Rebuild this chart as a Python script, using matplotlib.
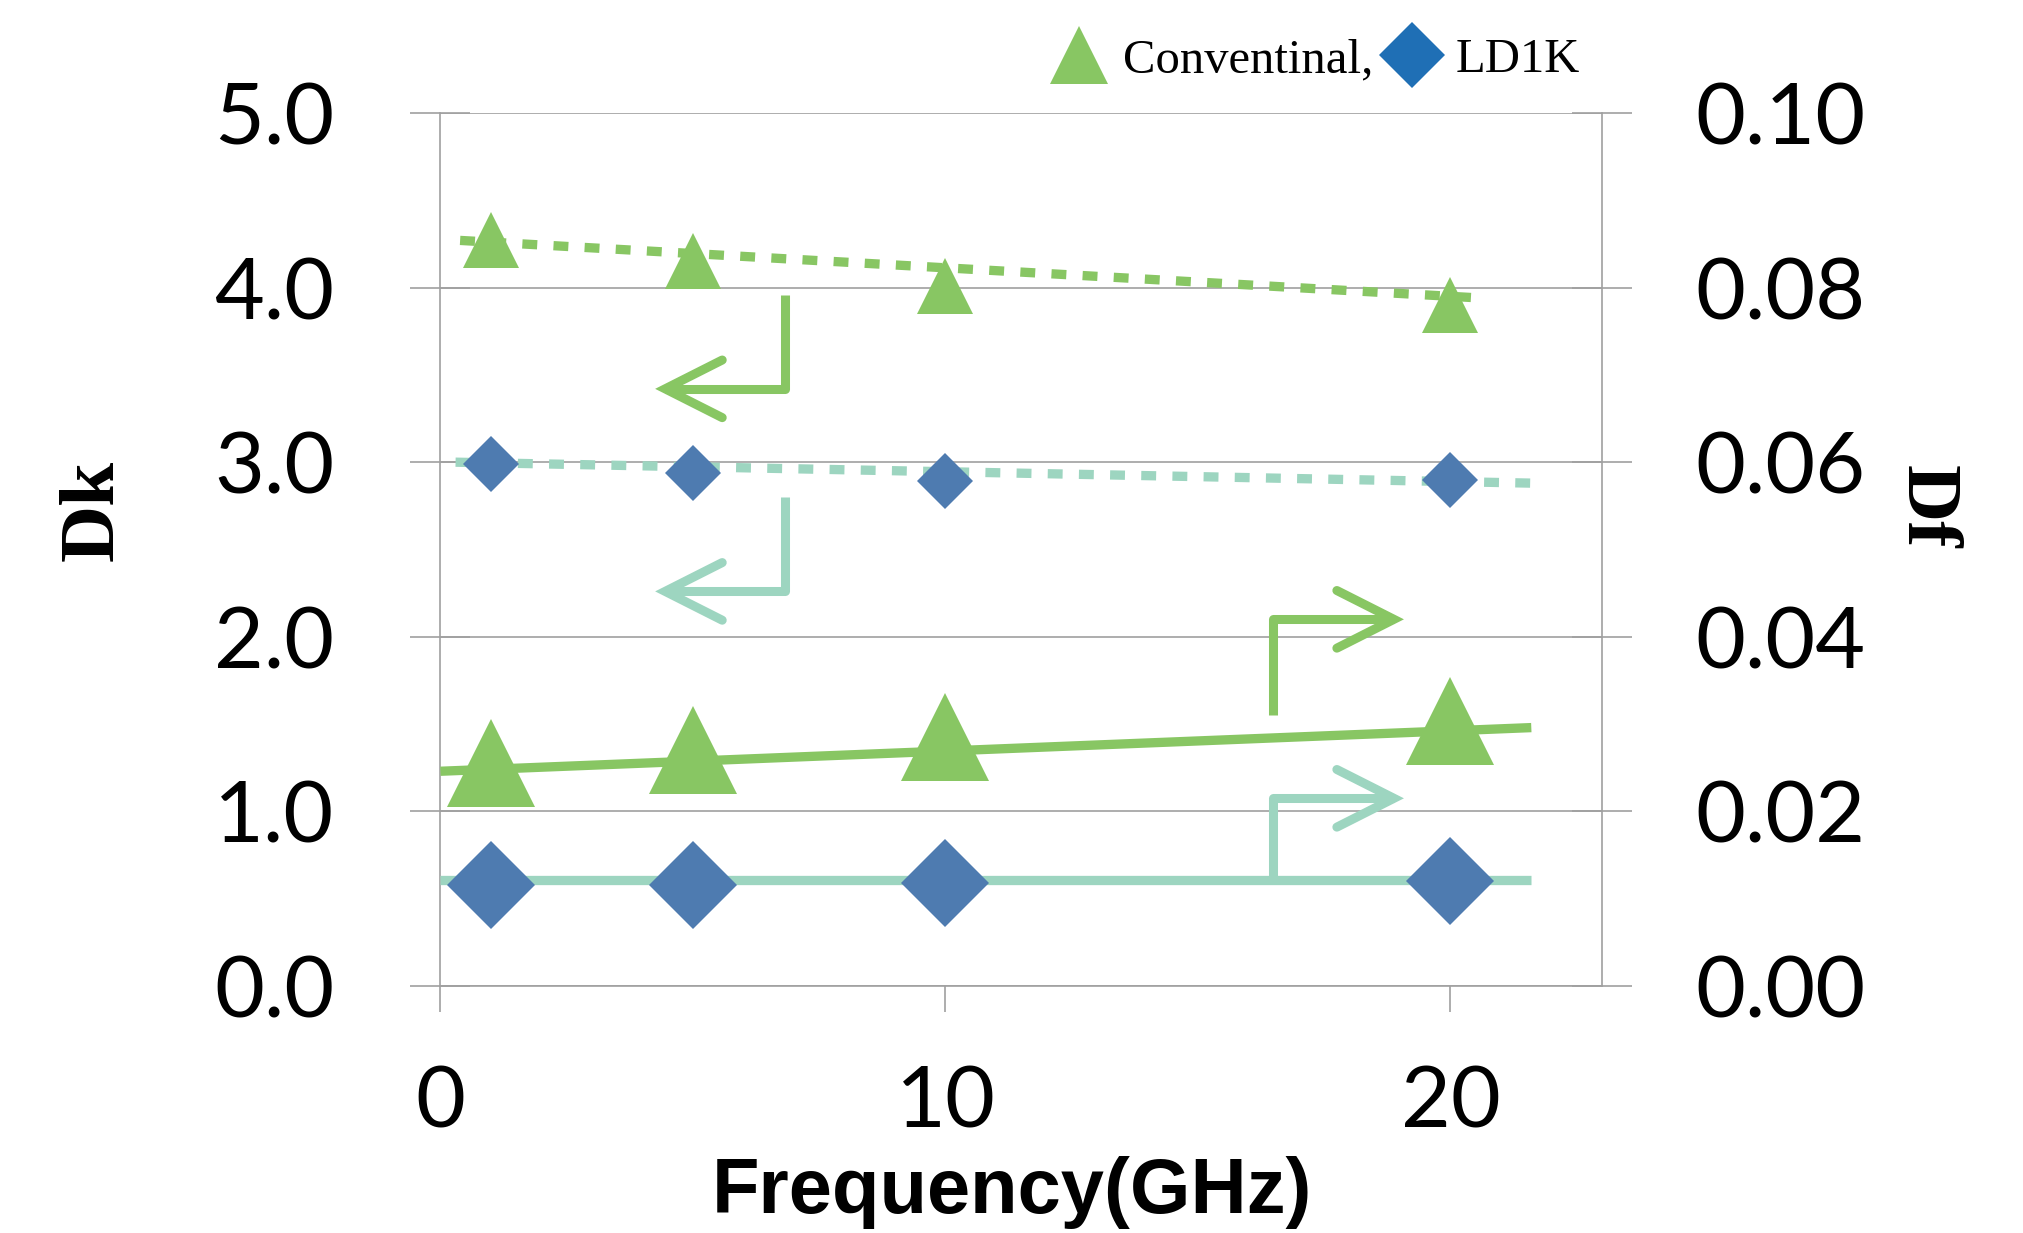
import numpy as np
import matplotlib
matplotlib.use("Agg")
import matplotlib.pyplot as plt
from matplotlib.lines import Line2D

# Measured data (frequency in GHz)
freq = [1, 5, 10, 20]
dk_conv = [4.27, 4.15, 4.01, 3.90]
dk_ld1k = [2.99, 2.94, 2.89, 2.90]
df_conv = [0.0255, 0.0270, 0.0285, 0.0304]
df_ld1k = [0.0116, 0.0116, 0.0118, 0.0120]

# Trend lines (start / end)
trend_x_dk_conv = [0.39, 20.6]
trend_dk_conv = [4.27, 3.94]
trend_x_dk_ld1k = [0.30, 21.6]
trend_dk_ld1k = [3.00, 2.88]
trend_x_df = [0.0, 21.6]
trend_df_conv = [0.0246, 0.0296]
trend_df_ld1k = [0.0121, 0.0121]

# Axis ticks
x_ticks = [0, 10, 20]
dk_ticks = [0, 1, 2, 3, 4, 5]
df_ticks = [0.00, 0.02, 0.04, 0.06, 0.08, 0.10]

# Colours
green = "#88C663"
teal = "#9DD5C0"
blue = "#4E7BB0"
legend_blue = "#1F6FB5"
grid_color = "#A0A0A0"

tick_font = "Lato"
serif_font = "Liberation Serif"

fig = plt.figure(figsize=(20.23, 12.33), dpi=100)
ax = fig.add_axes([0.2177, 0.2003, 0.5742, 0.7081])
ax2 = ax.twinx()

ax.set_xlim(0, 23)
ax.set_ylim(0, 5)
ax2.set_ylim(0, 0.10)

# Dk (left axis): dotted trend lines + small markers
ax.plot(trend_x_dk_conv, trend_dk_conv, color=green, lw=6.7, dashes=(1.6, 1.75),
        dash_capstyle="butt", zorder=2)
ax.plot(trend_x_dk_ld1k, trend_dk_ld1k, color=teal, lw=6.7, dashes=(1.6, 1.75),
        dash_capstyle="butt", zorder=2)
ax.plot(freq, dk_conv, linestyle="none", marker="^", markersize=40, mew=0,
        color=green, zorder=3)
ax.plot(freq, dk_ld1k, linestyle="none", marker="D", markersize=28.5, mew=0,
        color=blue, zorder=3)

# Df (right axis): solid trend lines + big markers
ax2.plot(trend_x_df, trend_df_conv, color=green, lw=6.7, solid_capstyle="butt", zorder=2)
ax2.plot(trend_x_df, trend_df_ld1k, color=teal, lw=6.7, solid_capstyle="butt", zorder=2)
ax2.plot(freq, df_conv, linestyle="none", marker="^", markersize=63, mew=0,
         color=green, zorder=3)
ax2.plot(freq, df_ld1k, linestyle="none", marker="D", markersize=44.8, mew=0,
         color=blue, zorder=3)

# L-shaped arrows telling which axis each series belongs to
# (shaft x, shaft start y, corner y, tip x, colour) in Dk units
arrows = [
    (6.83, 3.96, 3.42, 4.45, green),
    (6.83, 2.80, 2.26, 4.45, teal),
    (16.49, 1.55, 2.10, 18.88, green),
    (16.49, 0.61, 1.075, 18.88, teal),
]
for sx, sy, cy, tx, col in arrows:
    ax.plot([sx, sx, tx], [sy, cy, cy], color=col, lw=6.5,
            solid_capstyle="butt", solid_joinstyle="round", zorder=2.5)
    arm_x = tx + (1.13 if tx < sx else -1.13)
    ax.plot([arm_x, tx, arm_x], [cy + 0.165, cy, cy - 0.165], color=col, lw=6.5,
            solid_capstyle="round", solid_joinstyle="miter", zorder=2.5)

# Grid and axes styling (Excel look)
ax.set_yticks(dk_ticks)
ax.set_yticklabels([f"{v:.1f}" for v in dk_ticks])
ax2.set_yticks(df_ticks)
ax2.set_yticklabels([f"{v:.2f}" for v in df_ticks])
ax.set_xticks(x_ticks)
ax.set_xticklabels([str(v) for v in x_ticks])

ax.yaxis.grid(True, color=grid_color, lw=1.2)
ax.set_axisbelow(True)

ax.tick_params(axis="y", direction="inout", length=43, width=1.2, color=grid_color,
               pad=55, labelsize=62, labelcolor="black")
ax2.tick_params(axis="y", direction="inout", length=43, width=1.2, color=grid_color,
                pad=46, labelsize=62, labelcolor="black")
ax.tick_params(axis="x", direction="out", length=18.7, width=1.2, color=grid_color,
               pad=38, labelsize=62, labelcolor="black")
for lab in ax.get_xticklabels() + ax.get_yticklabels() + ax2.get_yticklabels():
    lab.set_fontfamily(tick_font)

ax.spines["top"].set_visible(False)
for s in ["left", "right", "bottom"]:
    ax.spines[s].set_color(grid_color)
    ax.spines[s].set_linewidth(1.2)
for s in ax2.spines:
    ax2.spines[s].set_visible(False)

# Axis titles
ax.text(-0.298, 0.545, "Dk", transform=ax.transAxes, rotation=90, ha="center",
        va="center", fontsize=57, fontweight="bold", fontfamily=serif_font)
ax.text(1.278, 0.549, "Df", transform=ax.transAxes, rotation=-90, ha="center",
        va="center", fontsize=57, fontweight="bold", fontfamily=serif_font)
ax.text(0.492, -0.2597, "Frequency(GHz)", transform=ax.transAxes, ha="center",
        va="baseline", fontsize=56, fontweight="bold", fontfamily="Liberation Sans")

# Legend
handles = [
    Line2D([], [], linestyle="none", marker="^", markersize=42, mew=0, color=green),
    Line2D([], [], linestyle="none", marker="D", markersize=33.6, mew=0, color=legend_blue),
]
ax2.legend(handles, ["Conventinal,", "LD1K"], ncol=2, loc="center",
           bbox_to_anchor=(0.650, 0.951), bbox_transform=fig.transFigure,
           frameon=False, prop={"family": serif_font, "size": 35},
           handlelength=1.2, handletextpad=0.3, columnspacing=0.2,
           borderpad=0, borderaxespad=0)

plt.savefig("out.png", dpi=100)
